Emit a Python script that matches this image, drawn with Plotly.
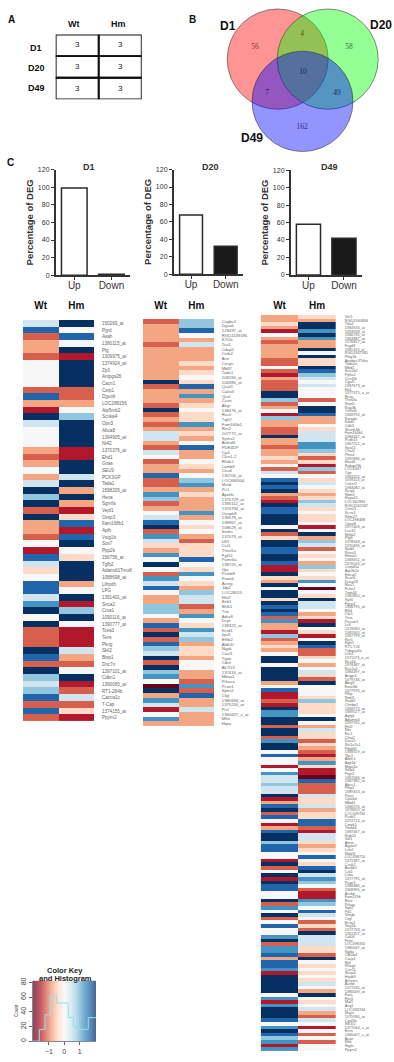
import plotly.graph_objects as go

W, H = 394, 1062
RDBU = ["#67001f","#b2182b","#d6604d","#f4a582","#fddbc7","#f7f7f7","#d1e5f0","#92c5de","#4393c3","#2166ac","#053061"]

# ---- Panel A
table_cols = ["Wt", "Hm"]
table_rows = ["D1", "D20", "D49"]
table_vals = [[3, 3], [3, 3], [3, 3]]

# ---- Panel B
venn_sets = ["D1", "D20", "D49"]
venn_counts = [56, 4, 58, 10, 7, 49, 162]

# ---- Panel C bars
bar_cats = ["Up", "Down"]
bars_d1 = [99, 1]
bars_d20 = [68, 32]
bars_d49 = [58, 42]
bar_ticks = [0, 20, 40, 60, 80, 100, 120]

# ---- Heatmap D1
d1_labels = ["150269_at","Pgrd","Asah","1380115_at","Plg","1309975_at","1374924_at","Zp3","Antpgs26","Cacn1","Csrp1","Dguok","LOC288156","Atp5mb2","Scnka4","Opn3","Abca8","1394905_at","Nt42","1370376_at","Ehd1","Gnas","SEU9","PCK3GP","Tada1","1598205_at","Hexa","Sgrnfa","Vepf1","Oxsp3","Fam168b1","Aplh","Vsig1b","Sox7","Ppp2k","156756_at","Tgfb2","Adamdt1Tmx8","1088698_at","Lifrpdh","LPG","1391401_at","Snca2","Cma1","1090116_at","1390777_at","Tcea3","Tens","Pkng","Skil2","Btsp1","Dnc7n","1397101_at","Cdkn1","1390065_at","RT1-284b","Cacna1c","T-Cap","1374155_at","Ppyrn2"]
d1_wt = [.4,1.6,-1.2,-.8,-.8,-1.2,0,0,0,0,-1.2,1.6,-.8,-1.6,2,.4,0,0,0,-.8,-1.2,-.8,0,-.8,.4,2,.8,2,-1.2,2,-.8,-.8,-1.2,0,-1.6,1.6,.4,-.4,0,1.6,1.6,.4,1.2,2,0,2,-1.2,-1.2,-1.2,2,1.6,-1.2,2,.8,.4,.8,1.6,-1.2,1.6,-1.2]
d1_hm = [2,0,1.6,0,2,-1.6,2,2,2,2,-1.2,-1.2,-.8,0,.8,2,2,2,2,-1.6,-1.6,2,2,.4,2,-.8,2,-.8,-1.6,-.4,1.6,-1.6,1.6,2,0,-.4,2,2,2,-.8,0,2,-1.6,.8,2,0,-1.6,-1.6,-1.6,.4,-.8,-1.2,0,2,-1.6,-1.2,.4,-1.2,-.4,-1.6]

# ---- Heatmap D20
d20_labels = ["Cxgbs2","Dguok","128497_at","RGD1139186","K7l2a","Tca1","Cdcp2","Cnib2","Arin","Cergn","Mbll7","Tada1","108284_at","106986_at","Qsaf1","Cako3","Qcel","Ccrin","Akgr","138476_at","Rsch","Tqfr2","Fam160b1","Rrn2","107772_at","Syms2","Ankrd3","PDE4DP","Cp4","Clcn1-2","Rhdc2","Lamb3","Cesd","130706_at","LOC684504","Mutd","Pir1","Apoflo",
"1376729_at","1395112_at","1374794_at","Oxaph8","138078_at","138967_at","108628_at","Sorbs","137079_at","Ufl1","Cst1","Thrsf1a","Fgf12","Pamr6a","138725_at","Gja","Psmb9","Pxand","Acteg","Jdp2","LOC28015","Hrk2","Bsb1","Bhlk1","Trie","Adsr8","Dcpt","138322_at","Kctd1","Igsf1","Efhb2","Aldh1l","Ngpk","Cacl1","Tgoe","Cdnf","Ak7l13","137416_at","Mbaa1","Prkaca","Pcan1","Sphs2","Cfgl","1380694_at","1375230_at","Prcl","1360657_z_at","Mlto","Hipw"]
d20_wt = [-1.2,-.8,-.8,-.8,-.8,-1.2,-.8,-.8,-.8,-.8,-.8,-.8,-.8,2,-1.2,-.8,-.8,-.8,-1.2,2,-1.2,-.8,-1.2,-.8,.4,.4,-.8,-1.2,.4,0,-1.2,-.8,-.8,1.6,-1.2,-1.2,-.8,1.2,
.8,-1.2,-.8,0,.4,1.6,2,-1.2,1.2,.4,-.4,-.8,1.2,0,2,0,-1.2,1.2,.4,1.6,0,-.8,-.8,.8,.8,0,-.8,1.6,-1.2,2,-1.2,1.6,.8,.4,2,-1.2,2,.8,1.2,0,-2,2,-.8,1.2,.4,-1.6,0,1.2,-.8]
d20_hm = [.8,.8,1.6,0,-.8,.4,-.8,-.8,-.8,-.4,-.8,-.4,0,-.4,1.6,-.8,1.2,-.8,-.4,0,-.4,-.4,1.2,-.8,-.4,-.8,0,1.6,-.8,-.8,0,-.4,-.8,0,.8,1.2,-.8,-.4,
-.8,-.8,-.8,1.2,-.8,0,-.4,0,-.8,-1.2,-.4,-.4,-.4,1.6,0,-.4,1.2,0,-.4,-.8,.8,.4,.4,-1.2,-.8,1.2,0,-.4,1.2,.4,.8,-.8,-.4,-.4,-.8,0,0,-.8,-.8,-1.2,1.2,-1.2,1.6,-.8,-.8,.4,-.8,-.8,-.8]

# ---- Heatmap D49
d49_labels = ["Vtn1","RGD1560894","Tsfa1","1384926_at","1394928_at","1366735_at","1384887_at","1376857_at","Fxyd3","1385113_at","RGD1307585","Pkig1b","Apobec3Tsha","Tada1n","Mbd1","Scn1b2","Ppfia2","Ccn1lb","Cgaf1","1387673_at","Ho1","1377375_a_at","Bcrg","Thra3a","Sept5","Rag3b","Tnfrsf4","1368794_at","Rarg4a","Kdm2","Cdkl1","Shank3b","Fam160b1","1384447_at","Pcdh15","1367251_at","Sox21","Chat1","Pkra1","1392686_at","Hoxd1","Rabgef1b","LOC4347","Cgn","1383205_at","1378113_at","Cnksr2","1384082_at",
"Scrg1","Rbm1","Hspa41","LOC362894","RGD1562347","Cntn2f","Scrsr1","Rbm27","LOC498468","Cpne8","1377403_at","Lrrc32","Mylip2","Ptgfr","1378948_at","1370496_at","Sptb1","Rasa3","Hmox1","1368351_at","1376016_at","Csmd1a","Atp2b2n","Hecw2","Scarf1","Dusp28","Mcu1","Fcho1","Trmt44","1382800_at","Sytl1","Fgcp1","1368795_at","Elk4","Otx1","Tnxc","Pacsin1","Lctl","1374060_at","1382905_at","1367799_at","Rxr1","Ngfr1","RT1-T24","Tubgcp3a","Lrfn1","1371173_a_at","Ncs1b","1378487_at","Rcc2a2","1384497_at","Angpt1",
"1379746_at","Abig3","Exoc6b","1377976_at","Pfkp","Nebl1","Sirpb1","Cttnbp1","1368273_at","1369527_at","Agfg1","Adamts3","1397765_at","Hsf2","Nlrc","Erc1","Chat2","Dock1","Slc5a7a1","Pdgfd1","1368319_at","Tbc1","Atbln1","Aqp1b","Mgat1a","Selp4","Ptgs2","1367066_at","1387382_at","Abcc1","Pfkp2","1389353_at","Ptacr","Cplx4d","Mbtd1","1366576_at","1378655_at","LOC499744","Pcnb2","1374714_at","Cmpk1","Tmed4","1387467_at","Rab14","Vaf1","Amot","Agpat2","Lrfn2","Mob3l","LOC498724","1371387_at","Csnk2",
"Aurkb1","Col1","Luka","1377795_at","Pcyn3","1368486_at","1368995_at","Aurkd","Fam119b","Bsnr","Prkag","Sgk2","Pd1","Vmgb","Ctgl","Ecsa1","Veg1b","1377733_at","1361357_at","Col04","Fnkn","LOC498350","1380047_at","Ngda","Cfb1b4","Cavp1","Mxf","Rhog1","Can11","Sesp4","Hspb3","Arhcms","Aurkb","1377035_at","1380009_at","Fara","Fps1","Maf1","Ang1","LOC498744","Msyn","1375930_at","Cyp2fe","Sth1l2","1377044_s_at","Enrn","1366407_s_at","Asan","Mitk","Higla","Ppyrn2"]
d49_wt = [-.8,-.8,-.4,-.8,-1.6,0,-.8,-1.2,-.8,-.8,-.8,-.8,-1.2,-1.2,0,-1.2,-1.6,-.8,-1.2,-1.2,-1.2,2,2,.8,-1.2,-.8,0,-1.6,.8,-.8,-.8,-1.2,-1.2,2,-.8,-.8,-1.2,-.8,-.8,-.4,-.8,0,-1.2,.4,0,1.6,2,1.6,
2,-.8,-1.2,-1.6,2,1.6,1.6,2,2,2,0,2,-1.2,-.4,2,2,1.6,1.6,2,2,1.6,-1.6,-1.6,2,-.4,-.8,2,0,2,2,-.4,2,1.6,2,1.6,-1.2,1.2,-.8,-.8,-1.6,.8,-1.2,-.8,-.4,-.8,0,2,2,0,2,2,2,
2,-.8,0,1.6,-1.6,-1.6,-1.2,-1.6,2,1.2,1.2,2,2,-1.2,2,2,-1.2,1.2,2,2,0,1.6,0,0,-1.6,0,1.2,.4,.4,.8,.4,.4,2,-1.6,-.8,1.6,2,-1.2,1.6,0,-1.6,-.8,1.6,2,2,.8,1.6,1.6,0,0,-1.6,2,
-1.2,0,2,-1.6,2,1.6,1.6,0,0,2,-1.2,1.2,0,2,-1.2,0,1.6,0,0,1.2,2,-1.2,1.2,1.2,1.6,-.8,1.6,1.6,1.2,-1.6,2,2,2,2,2,0,1.2,-1.6,1.2,2,2,2,1.6,0,1.2,2,1.6,.8,1.2,-1.6,1.2]
d49_hm = [-.4,-.8,2,2,1.2,2,1.2,-.8,-.8,2,0,2,-.4,-.4,2,1.6,.8,.4,0,.4,0,0,0,-1.2,0,2,2,1.6,-.8,-.8,0,-.4,.4,.4,.4,1.2,1.2,.8,-.4,-1.2,-.4,-1.6,.8,-1.2,0,-.4,.4,0,
-.4,-.8,-.4,.8,.4,-.4,0,-.4,-.4,0,-1.6,0,2,-.8,.8,.4,-1.2,0,-.4,0,-.8,.8,-.4,0,-.4,1.2,0,-2,0,-.4,2,.4,.4,0,-.8,-.4,-1.6,2,0,-.4,-1.6,0,2,1.6,-1.2,-1.2,-.4,0,-.8,0,.4,-.4,
-1.2,2,0,0,0,-.4,.8,-.4,-.4,-.4,0,2,0,-.8,.4,-.4,-.4,-1.2,-.4,-.8,-1.2,-1.6,-.8,1.2,-.4,-1.6,-1.6,-2,1.6,-1.2,-1.2,-1.2,.4,-.4,-.4,.4,-.8,-.4,-.4,1.6,1.6,-1.2,-1.6,.4,.4,-.4,-.8,-.4,0,1.6,0,-.4,
1.6,2,.4,1.2,.8,0,-1.2,-1.6,-1.6,1.2,.8,0,1.6,.4,0,-1.2,-.4,-1.2,2,.4,.4,.4,-.4,-.4,-1.2,2,0,-.4,0,-.4,0,-.4,.4,0,-.8,2,0,-.4,0,.4,-.8,-1.2,.4,0,-1.6,0,-1.2,0,-1.2,0,0]

# ---- Colour key and histogram
key_x = [-2.0,-1.8,-1.6,-1.4,-1.2,-1.0,-0.8,-0.6,-0.4,-0.2,0.0,0.2,0.4,0.6,0.8,1.0,1.2,1.4,1.6,1.8,2.0]
hist_edges = [-2.03,-1.62,-1.25,-0.92,-0.49,-0.23,0.26,0.59,0.91,1.56,2.06]
hist_counts = [0,16,36,62,52,52,32,20,16,32,32]
key_xticks = [-1, 0, 1]
key_yticks = [0, 20, 40, 60, 80]

assert len(d1_labels) == len(d1_wt) == len(d1_hm), (len(d1_labels), len(d1_wt), len(d1_hm))
assert len(d20_labels) == len(d20_wt) == len(d20_hm), (len(d20_labels), len(d20_wt), len(d20_hm))
assert len(d49_labels) == len(d49_wt) == len(d49_hm), (len(d49_labels), len(d49_wt), len(d49_hm))

SANS = "Liberation Sans, Arial, sans-serif"
SERIF = "Liberation Serif, Times New Roman, serif"
INK = "#222222"
fig = go.Figure()
layout = {}
ax_n = [0]


def axes(x0, x1, y0, y1, xo, yo):
    ax_n[0] += 1
    k = ax_n[0]
    sx = "" if k == 1 else str(k)
    base = dict(showgrid=False, zeroline=False)
    layout[f"xaxis{sx}"] = {**base, "domain": [x0 / W, x1 / W], "anchor": f"y{sx}", **xo}
    layout[f"yaxis{sx}"] = {**base, "domain": [1 - y1 / H, 1 - y0 / H], "anchor": f"x{sx}", **yo}
    return f"x{sx}", f"y{sx}"


hide = dict(visible=False)

# Panel A table
xa, ya = axes(55.7, 141.7, 30.7, 96, dict(range=[0, 2], **hide), dict(range=[3, 0], **hide))
shapes = []
for r in range(3):
    for c in range(2):
        shapes.append(dict(type="rect", xref=xa, yref=ya, x0=c, x1=c + 1, y0=r, y1=r + 1,
                           line=dict(color="#111111", width=1.8), layer="below"))
fig.add_trace(go.Scatter(x=[c + .5 for r in range(3) for c in range(2)],
                         y=[r + .5 for r in range(3) for c in range(2)],
                         text=[str(table_vals[r][c]) for r in range(3) for c in range(2)],
                         mode="text", textfont=dict(family=SANS, size=8, color=INK), xaxis=xa, yaxis=ya, hoverinfo="skip"))

# Panel B venn (axis units are pixels of the panel)
xb, yb = axes(220, 394, 0, 155, dict(range=[220, 394], **hide), dict(range=[155, 0], **hide))
for (cx, cy), col in zip([(277.7, 55.5), (327.7, 55.5), (302.5, 98)],
                         ["rgba(255,0,0,.42)", "rgba(0,255,0,.42)", "rgba(0,0,255,.42)"]):
    shapes.append(dict(type="circle", xref=xb, yref=yb, x0=cx - 50.5, x1=cx + 50.5, y0=cy - 50.5, y1=cy + 50.5,
                       fillcolor=col, line=dict(color="rgba(50,50,50,.55)", width=1), layer="below"))
fig.add_trace(go.Scatter(x=[255, 302, 349, 303, 267, 337, 302], y=[43, 30, 43, 69, 90, 90, 124],
                         text=[str(v) for v in venn_counts], mode="text",
                         textfont=dict(family=SERIF, size=7.5,
                                       color=["#8a3a3a", "#4a5210", "#2e7a3a", "#12235e", "#3a1060", "#12305e", "#2a2a80"]),
                         xaxis=xb, yaxis=yb, hoverinfo="skip"))

annos = []


def note(text, x, y, size, color="#111111", bold=True, angle=0, family=SANS):
    annos.append(dict(text=f"<b>{text}</b>" if bold else text, x=x / W, y=1 - y / H, xref="paper", yref="paper",
                      showarrow=False, xanchor="center", yanchor="middle", textangle=angle,
                      font=dict(family=family, size=size, color=color)))


note("A", 11, 16, 10)
note("B", 192, 16, 10)
note("C", 10, 160, 10)
for t, x in zip(table_cols, [74, 118]):
    note(t, x, 20, 9)
for t, y in zip(table_rows, [44, 64, 85]):
    note(t, 36, y, 9)
for t, x, y in zip(venn_sets, [228, 381, 252], [22, 21, 135]):
    note(t, x, y, 12)


# Panel C bars
def bars(vals, title, x0, x1, ytop, ybot, gap, title_x):
    xo = dict(type="category", categoryorder="array", categoryarray=bar_cats, showline=True, linecolor="#333",
              linewidth=1.5, ticks="outside", ticklen=3, tickwidth=1, tickcolor="#333", ticklabelstandoff=-3,
              tickfont=dict(family=SANS, size=10, color="#333"))
    yo = dict(range=[0, 120], tickvals=bar_ticks, showline=True, linecolor="#333", linewidth=1.5, ticks="outside",
              ticklen=3, tickwidth=1, tickcolor="#333", tickfont=dict(family=SANS, size=7, color="#333"),
              title=dict(text="<b>Percentage of DEG</b>", font=dict(family=SANS, size=9.5, color="#333"), standoff=3))
    xx, yy = axes(x0, x1, ytop, ybot, xo, yo)
    fig.add_trace(go.Bar(x=bar_cats, y=vals, marker=dict(color=["#ffffff", "#1a1a1a"], line=dict(color="#2a2a2a", width=1.5)),
                         width=1 - gap, xaxis=xx, yaxis=yy, hoverinfo="skip"))
    note(title, title_x, 164, 9, color="#333")


bars(bars_d1, "D1", 55.7, 130, 166.7, 273, .31, 89)
bars(bars_d20, "D20", 173.7, 243, 166.7, 272, .34, 210)
bars(bars_d49, "D49", 290.7, 361.7, 167.3, 272.7, .32, 329)


# Heatmaps
def heat(labels, wt, hm, x0, x1, ytop, rowh, lab_size, gap, head_gap):
    n = len(labels)
    ids = list(range(n))
    xo = dict(side="top", tickvals=[0, 1], ticktext=["<b>Wt</b>", "<b>Hm</b>"], range=[-.5, 1.5], ticks="",
              ticklabelstandoff=head_gap, tickfont=dict(family=SANS, size=10, color="#111"))
    yo = dict(side="right", tickvals=ids, ticktext=labels, range=[n - .5, -.5], ticks="outside", ticklen=gap,
              tickcolor="rgba(0,0,0,0)", tickfont=dict(family=SANS, size=lab_size, color="#666"))
    xx, yy = axes(x0, x1, ytop, ytop + rowh * n, xo, yo)
    fig.add_trace(go.Heatmap(x=[0, 1], y=ids, z=[[a, b] for a, b in zip(wt, hm)], colorscale=RDBU, zmin=-2, zmax=2,
                             showscale=False, xaxis=xx, yaxis=yy, hoverinfo="skip"))


heat(d1_labels, d1_wt, d1_hm, 23, 94, 318, 6.73, 4.6, 6, 8)
heat(d20_labels, d20_wt, d20_hm, 143, 214, 317, 4.71, 4.2, 6, 7)
heat(d49_labels, d49_wt, d49_hm, 260.7, 336, 313, 3.65, 3.8, 7, 3)

# Colour key
xk, yk = axes(33, 96, 983, 1044,
              dict(range=[-2.03, 2.06], tickvals=key_xticks, ticks="outside", ticklen=3, tickcolor="#666",
                   showline=True, linecolor="#888", tickfont=dict(family=SANS, size=7, color="#444")),
              dict(range=[0, 82.7], tickvals=key_yticks, ticks="outside", ticklen=3, tickcolor="#666", tickangle=-90,
                   showline=True, linecolor="#888", tickfont=dict(family=SANS, size=7, color="#444"),
                   title=dict(text="Count", font=dict(family=SANS, size=4.5, color="#444"), standoff=1)))
fig.add_trace(go.Heatmap(x=key_x, y=[0, 82.7], z=[key_x, key_x], colorscale=RDBU, zmin=-2, zmax=2, zsmooth="best",
                         opacity=.72, showscale=False, xaxis=xk, yaxis=yk, hoverinfo="skip"))
fig.add_trace(go.Scatter(x=hist_edges, y=hist_counts, mode="lines", line=dict(shape="hv", color="#8fe3ea", width=1),
                         xaxis=xk, yaxis=yk, hoverinfo="skip"))
note("Color Key", 65, 973, 7.5, color="#222")
note("and Histogram", 65, 981, 7.5, color="#222")

fig.update_layout(width=W, height=H, margin=dict(l=0, r=0, t=0, b=0), paper_bgcolor="white", plot_bgcolor="white",
                  showlegend=False, shapes=shapes, annotations=annos, **layout)
fig.write_html("out.html", config=dict(displayModeBar=False),
               post_script="document.body.style.margin='0';document.body.style.overflow='hidden';")
